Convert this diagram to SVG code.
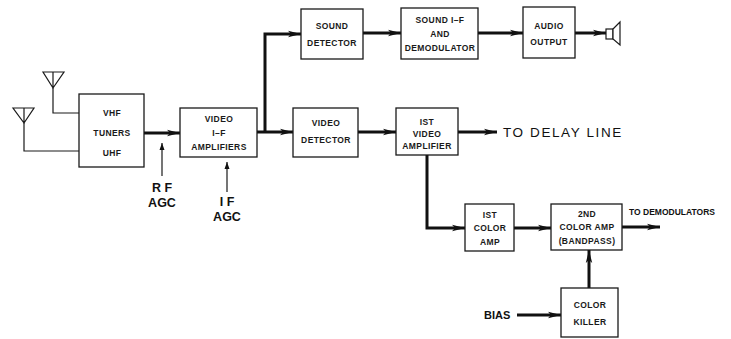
<svg xmlns="http://www.w3.org/2000/svg" width="731" height="339" viewBox="0 0 731 339">
<defs>
<marker id="ah" markerUnits="userSpaceOnUse" markerWidth="14" markerHeight="8" refX="13" refY="4" orient="auto">
<path d="M0,0.8 L13,4 L0,7.2 L3,4 z" fill="#111"/>
</marker>
<marker id="ahs" markerUnits="userSpaceOnUse" markerWidth="8" markerHeight="8" refX="7" refY="3" orient="auto">
<path d="M0,0.5 L7,3 L0,5.5 z" fill="#111"/>
</marker>
</defs>
<style>
.box{fill:#fff;stroke:#1a1a1a;stroke-width:1.3}
.t{font-family:"Liberation Sans",Arial,sans-serif;font-size:8.5px;font-weight:bold;fill:#1a1a1a;text-anchor:middle;letter-spacing:0.4px}
.big{font-family:"Liberation Sans",Arial,sans-serif;font-size:12.5px;font-weight:bold;fill:#111;text-anchor:middle}
.thick{fill:none;stroke:#111;stroke-width:3;marker-end:url(#ah)}
.thin{fill:none;stroke:#1a1a1a;stroke-width:1.2}
.agc{fill:none;stroke:#1a1a1a;stroke-width:1.2;marker-end:url(#ahs)}
</style>
<rect width="731" height="339" fill="#fff"/>

<g id="connectors">
<path class="thin" d="M53,88 V113 H79"/>
<path class="thin" d="M24,123 V151 H79"/>
<path class="thin" d="M79,133 H88"/>
<path class="thin" d="M136,133 H144"/>
<path class="thick" d="M144,133 H180"/>
<path class="agc" d="M162,176 V143"/>
<path class="agc" d="M227,192 V162"/>
<path class="thick" d="M257,132 H293"/>
<path class="thick" d="M265,132 V34 H301"/>
<path class="thick" d="M363,33 H401"/>
<path class="thick" d="M478,33 H523"/>
<path class="thick" d="M575,33 H606"/>
<path class="thick" d="M358,132 H396"/>
<path class="thick" d="M458,132 H497"/>
<path class="thick" d="M427,155 V228 H465"/>
<path class="thick" d="M514,228 H551"/>
<path class="thick" d="M622,227 H660"/>
<path class="thick" d="M589,288 V250"/>
<path class="thick" d="M517,315 H561"/>
</g>

<g id="antenna1">
<path class="thin" d="M43,72 H64 L53,88 Z M53,72 V88"/>
</g>
<g id="antenna2">
<path class="thin" d="M13,108 H34 L24,123 Z M24,108 V123"/>
</g>

<g id="tuners">
<rect class="box" x="79" y="94" width="65" height="73"/>
<text class="t" x="112" y="116">VHF</text>
<text class="t" x="112" y="136">TUNERS</text>
<text class="t" x="112" y="156">UHF</text>
</g>

<g id="rf-agc">
<text class="big" x="162" y="192">R F</text>
<text class="big" x="162" y="207">AGC</text>
</g>

<g id="video-if">
<rect class="box" x="180" y="108" width="77" height="49"/>
<text class="t" x="219" y="122">VIDEO</text>
<text class="t" x="219" y="136">I–F</text>
<text class="t" x="219" y="150">AMPLIFIERS</text>
</g>

<g id="if-agc">
<text class="big" x="227" y="206">I F</text>
<text class="big" x="227" y="221">AGC</text>
</g>

<g id="sound-detector">
<rect class="box" x="301" y="9" width="62" height="50"/>
<text class="t" x="332" y="29">SOUND</text>
<text class="t" x="332" y="46">DETECTOR</text>
</g>

<g id="sound-if">
<rect class="box" x="401" y="8" width="77" height="51"/>
<text class="t" x="440" y="23">SOUND I–F</text>
<text class="t" x="440" y="37">AND</text>
<text class="t" x="440" y="51">DEMODULATOR</text>
</g>

<g id="audio-output">
<rect class="box" x="523" y="7" width="52" height="51"/>
<text class="t" x="549" y="29">AUDIO</text>
<text class="t" x="549" y="45">OUTPUT</text>
</g>

<g id="speaker">
<rect x="606" y="29" width="7" height="10" fill="#fff" stroke="#1a1a1a" stroke-width="1.2"/>
<path d="M613,29 L620,22 V45 L613,39 Z" fill="#fff" stroke="#1a1a1a" stroke-width="1.2"/>
</g>

<g id="video-detector">
<rect class="box" x="293" y="108" width="65" height="49"/>
<text class="t" x="326" y="126">VIDEO</text>
<text class="t" x="326" y="143">DETECTOR</text>
</g>

<g id="video-amp">
<rect class="box" x="396" y="108" width="62" height="47"/>
<text class="t" x="427" y="125">IST</text>
<text class="t" x="427" y="137">VIDEO</text>
<text class="t" x="427" y="149">AMPLIFIER</text>
</g>

<g id="delay-line">
<text x="503" y="137" font-family="Liberation Sans, Arial, sans-serif" font-size="13.5" fill="#111" letter-spacing="1.6">TO DELAY LINE</text>
</g>

<g id="color-amp1">
<rect class="box" x="465" y="204" width="49" height="47"/>
<text class="t" x="490" y="218">IST</text>
<text class="t" x="490" y="231">COLOR</text>
<text class="t" x="490" y="245">AMP</text>
</g>

<g id="color-amp2">
<rect class="box" x="551" y="204" width="71" height="46"/>
<text class="t" x="587" y="217">2ND</text>
<text class="t" x="587" y="230">COLOR AMP</text>
<text class="t" x="587" y="244">(BANDPASS)</text>
</g>

<g id="demodulators">
<text x="629" y="215" font-family="Liberation Sans, Arial, sans-serif" font-size="8.5" font-weight="bold" fill="#111">TO DEMODULATORS</text>
</g>

<g id="color-killer">
<rect class="box" x="561" y="288" width="57" height="49"/>
<text class="t" x="590" y="308">COLOR</text>
<text class="t" x="590" y="325">KILLER</text>
</g>

<g id="bias">
<text x="484" y="319" font-family="Liberation Sans, Arial, sans-serif" font-size="11" font-weight="bold" fill="#111">BIAS</text>
</g>
</svg>
